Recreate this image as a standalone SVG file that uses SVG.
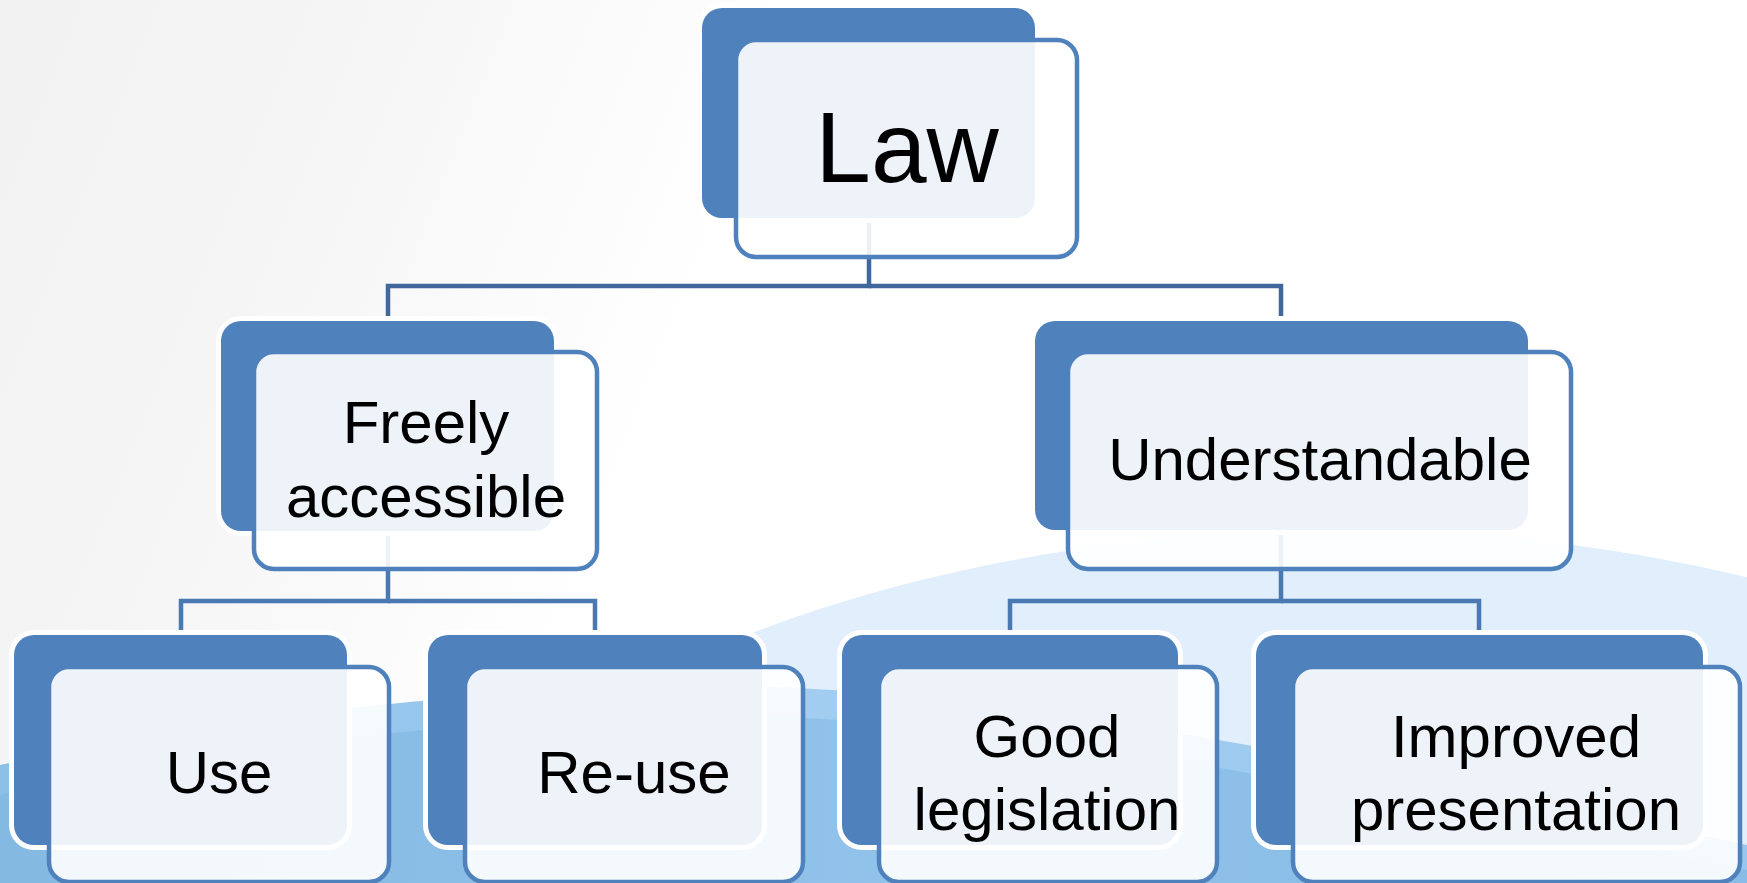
<svg xmlns="http://www.w3.org/2000/svg" width="1747" height="883" viewBox="0 0 1747 883">
<defs>
<linearGradient id="bg" x1="0" y1="0" x2="1" y2="0.2">
<stop offset="0" stop-color="#F2F2F2"/>
<stop offset="0.2" stop-color="#F5F5F5"/>
<stop offset="0.45" stop-color="#FFFFFF"/>
<stop offset="1" stop-color="#FFFFFF"/>
</linearGradient>
<linearGradient id="band" x1="0" y1="0" x2="1" y2="0">
<stop offset="0" stop-color="#8CC0E6"/>
<stop offset="0.5" stop-color="#A3CEF2"/>
<stop offset="1" stop-color="#98C6EE"/>
</linearGradient>
<linearGradient id="deep" x1="0" y1="0" x2="1" y2="0">
<stop offset="0" stop-color="#84B9E2"/>
<stop offset="0.5" stop-color="#90C2EA"/>
<stop offset="1" stop-color="#88BCE6"/>
</linearGradient>
</defs>
<style>
.back{fill:#4F81BD;stroke:#FFFFFF;stroke-width:10;paint-order:stroke}
.front{fill:#FFFFFF;fill-opacity:0.9;stroke:#4F81BD;stroke-width:4.5}
.lbl{font-family:"Liberation Sans",Arial,sans-serif;font-size:60px;fill:#000000;text-anchor:middle}
.big{font-size:100px}
.c1{fill:none;stroke:#41689C;stroke-width:4.5}
.c2{fill:none;stroke:#4A78B1;stroke-width:4.5}
</style>
<g id="background">
<rect x="0" y="0" width="1747" height="883" fill="url(#bg)"/>
<ellipse cx="1340" cy="1208" rx="1110" ry="678" fill="#E1EEFB"/>
<path d="M0,765 C200,720 450,690 700,686 C950,684 1250,740 1747,845 V883 H0 Z" fill="url(#band)"/>
<path d="M0,795 C220,745 470,718 720,716 C980,716 1280,775 1747,870 V883 H0 Z" fill="url(#deep)"/>
</g>
<g id="connectors">
<path class="c1" d="M869,218 V286 H388 V321"/>
<path class="c1" d="M869,286 H1281 V321"/>
<path class="c2" d="M388,531 V601 H181 V635"/>
<path class="c2" d="M388,601 H595 V635"/>
<path class="c2" d="M1281,529 V601 H1010 V635"/>
<path class="c2" d="M1281,601 H1479 V635"/>
</g>
<g id="node-law">
<rect class="back" x="702" y="8" width="333" height="210" rx="20"/>
<rect class="front" x="736" y="40" width="341" height="217" rx="20"/>
<text class="lbl big" x="907" y="182">Law</text>
</g>
<g id="node-freely">
<rect class="back" x="221" y="321" width="333" height="210" rx="20"/>
<rect class="front" x="254" y="352" width="343" height="217" rx="20"/>
<text class="lbl" x="426" y="443">Freely</text>
<text class="lbl" x="426" y="517">accessible</text>
</g>
<g id="node-understandable">
<rect class="back" x="1035" y="321" width="493" height="209" rx="20"/>
<rect class="front" x="1068" y="352" width="503" height="217" rx="20"/>
<text class="lbl" x="1320" y="480">Understandable</text>
</g>
<g id="node-use">
<rect class="back" x="14" y="635" width="333" height="210" rx="20"/>
<rect class="front" x="49" y="667" width="340" height="215" rx="20"/>
<text class="lbl" x="219" y="793">Use</text>
</g>
<g id="node-reuse">
<rect class="back" x="428" y="635" width="334" height="210" rx="20"/>
<rect class="front" x="465" y="667" width="338" height="215" rx="20"/>
<text class="lbl" x="634" y="793">Re-use</text>
</g>
<g id="node-good">
<rect class="back" x="842" y="635" width="336" height="210" rx="20"/>
<rect class="front" x="879" y="667" width="338" height="215" rx="20"/>
<text class="lbl" x="1047" y="757">Good</text>
<text class="lbl" x="1047" y="830">legislation</text>
</g>
<g id="node-improved">
<rect class="back" x="1256" y="635" width="447" height="210" rx="20"/>
<rect class="front" x="1293" y="667" width="447" height="215" rx="20"/>
<text class="lbl" x="1516" y="757">Improved</text>
<text class="lbl" x="1516" y="830">presentation</text>
</g>
</svg>
